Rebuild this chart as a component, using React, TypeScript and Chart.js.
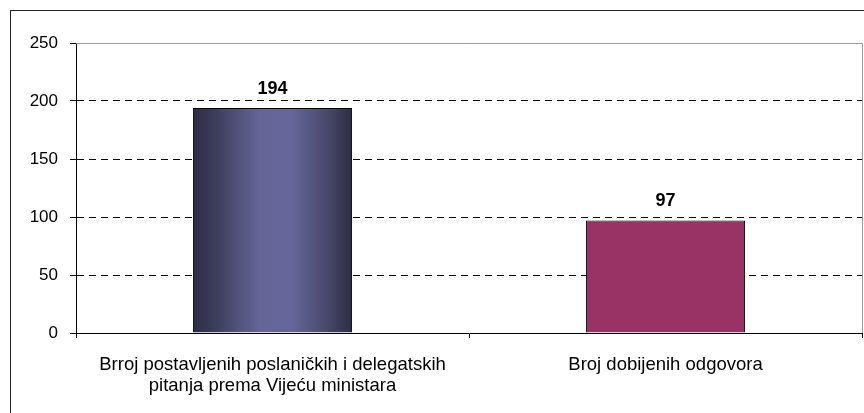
import React, { useEffect, useRef } from "react";
import { Chart, registerables } from "chart.js";

Chart.register(...registerables);

const categories: (string | string[])[] = [
  ["Brroj postavljenih poslaničkih i delegatskih", "pitanja prema Vijeću ministara"],
  "Broj dobijenih odgovora",
];
const values: number[] = [194, 97];
const yMin = 0;
const yMax = 250;
const yStep = 50;

const FONT = "'Liberation Sans', Arial, sans-serif";

const decorPlugin = {
  id: "decor",
  beforeDraw(chart: any) {
    const { ctx, width, height } = chart;
    ctx.save();
    ctx.fillStyle = "#ffffff";
    ctx.fillRect(0, 0, width, height);
    ctx.strokeStyle = "#222222";
    ctx.lineWidth = 1;
    ctx.strokeRect(10.5, 10.5, width + 20, height + 20);
    ctx.restore();
  },
  beforeDatasetsDraw(chart: any) {
    const { ctx, chartArea } = chart;
    ctx.save();
    ctx.strokeStyle = "#9a9a9a";
    ctx.lineWidth = 1;
    ctx.beginPath();
    ctx.moveTo(chartArea.left, Math.round(chartArea.top) + 0.5);
    ctx.lineTo(Math.round(chartArea.right) + 0.5, Math.round(chartArea.top) + 0.5);
    ctx.lineTo(Math.round(chartArea.right) + 0.5, chartArea.bottom);
    ctx.stroke();
    ctx.restore();
    const el = chart.getDatasetMeta(0).data[0] as any;
    if (el && isFinite(el.x)) {
      const half = el.width / 2;
      const grad = ctx.createLinearGradient(el.x - half, 0, el.x + half, 0);
      grad.addColorStop(0, "#2c2c44");
      grad.addColorStop(0.15, "#3e3e5e");
      grad.addColorStop(0.42, "#656598");
      grad.addColorStop(0.62, "#66669a");
      grad.addColorStop(0.85, "#474769");
      grad.addColorStop(1, "#2c2c44");
      el.options.backgroundColor = grad;
    }
  },
  afterDatasetsDraw(chart: any) {
    const { ctx } = chart;
    const meta = chart.getDatasetMeta(0);
    ctx.save();
    ctx.font = `bold 18px ${FONT}`;
    ctx.fillStyle = "#000";
    ctx.textAlign = "center";
    ctx.textBaseline = "alphabetic";
    meta.data.forEach((bar: any, i: number) => {
      ctx.fillText(String(values[i]), bar.x, bar.y - 14);
    });
    ctx.restore();
  },
};

export default function App() {
  const ref = useRef<HTMLCanvasElement | null>(null);
  useEffect(() => {
    if (!ref.current) return;
    const chart = new Chart(ref.current, {
      type: "bar",
      data: {
        labels: categories,
        datasets: [
          {
            data: values,
            backgroundColor: ["#666699", "#993366"],
            borderColor: "#000000",
            borderWidth: 1,
            borderSkipped: "bottom",
            categoryPercentage: 1,
            barPercentage: 0.405,
          },
        ],
      },
      options: {
        responsive: false,
        animation: false,
        devicePixelRatio: 1,
        layout: { padding: { top: 43, right: 2, left: 0, bottom: 0 } },
        plugins: { legend: { display: false }, tooltip: { enabled: false } },
        scales: {
          x: {
            grid: {
              offset: true,
              drawOnChartArea: false,
              drawTicks: true,
              tickLength: 5,
              tickColor: "#000",
              color: "#000",
            },
            border: { display: true, color: "#000", width: 1 },
            ticks: {
              color: "#000",
              font: { family: FONT, size: 18.5, lineHeight: 1.15 },
              padding: 16,
              maxRotation: 0,
              autoSkip: false,
            },
            afterFit: (s: any) => {
              s.height = 80;
            },
          },
          y: {
            min: yMin,
            max: yMax,
            ticks: {
              stepSize: yStep,
              color: "#000",
              font: { family: FONT, size: 17 },
              padding: 12,
            },
            grid: {
              color: (c: any) =>
                c.tick && (c.tick.value === yMax || c.tick.value === yMin) ? "rgba(0,0,0,0)" : "#000",
              tickColor: "#000",
              tickLength: 6,
              lineWidth: 1,
            },
            border: { display: true, color: "#000", width: 1, dash: [7, 5] },
            afterFit: (s: any) => {
              s.width = 76;
            },
          },
        },
      },
      plugins: [decorPlugin],
    } as any);
    return () => chart.destroy();
  }, []);
  return (
    <div style={{ position: "fixed", left: 0, top: 0, width: 864, height: 413, background: "#fff" }}>
      <canvas ref={ref} width={864} height={413} style={{ display: "block" }} />
    </div>
  );
}
